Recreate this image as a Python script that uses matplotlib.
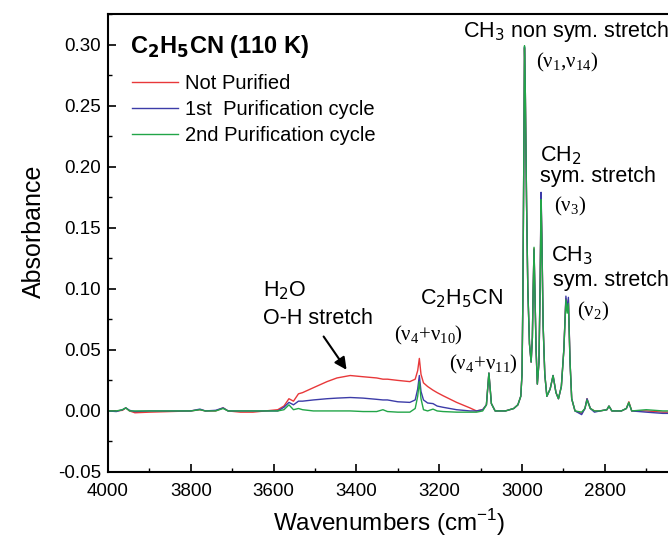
import matplotlib
matplotlib.use("Agg")
import matplotlib.pyplot as plt
from matplotlib.ticker import MultipleLocator, FormatStrFormatter

plt.rcParams['font.family'] = ['Liberation Sans', 'DejaVu Sans']
plt.rcParams['axes.unicode_minus'] = False
plt.rcParams['mathtext.fontset'] = 'custom'
plt.rcParams['mathtext.rm'] = 'Liberation Serif'
plt.rcParams['mathtext.it'] = 'Liberation Serif'
plt.rcParams['mathtext.bf'] = 'Liberation Serif:bold'

# ---- data ----
wavenumber = [4000, 3980, 3965, 3957, 3948, 3935, 3900, 3850, 3800, 3778, 3765, 3740,
              3722, 3710, 3680, 3650, 3620, 3590, 3575, 3563, 3552, 3540, 3530, 3504,
              3471, 3447, 3415, 3384, 3351, 3336, 3325, 3300, 3271, 3258, 3252, 3248,
              3244, 3238, 3228, 3215, 3205, 3191, 3158, 3126, 3110, 3095, 3086, 3080,
              3074, 3065, 3040, 3020, 3010, 3003, 3000, 2998, 2996, 2994, 2992, 2989,
              2986, 2982, 2978, 2975, 2973, 2971, 2969, 2966, 2963, 2959, 2956, 2954,
              2952, 2949, 2945, 2940, 2932, 2925, 2918, 2912, 2905, 2899, 2894, 2891,
              2888, 2884, 2880, 2872, 2856, 2848, 2843, 2835, 2825, 2812, 2795, 2790,
              2783, 2760, 2748, 2742, 2735, 2700, 2660, 2620]

not_purified = [0.000, 0.000, 0.0005, 0.0025, 0.000, -0.0015, -0.001, -0.0005, 0.000, 0.001, 0.000, 0.000,
                0.0025, 0.000, -0.001, -0.001, 0.000, 0.001, 0.004, 0.010, 0.008, 0.014, 0.015, 0.019,
                0.024, 0.027, 0.029, 0.028, 0.027, 0.026, 0.026, 0.025, 0.024, 0.026, 0.033, 0.043,
                0.030, 0.023, 0.020, 0.017, 0.015, 0.0125, 0.007, 0.0025, 0.000, 0.001, 0.005, 0.031,
                0.006, 0.000, 0.000, 0.002, 0.005, 0.012, 0.030, 0.090, 0.190, 0.297, 0.260, 0.170,
                0.100, 0.055, 0.040, 0.060, 0.100, 0.133, 0.100, 0.050, 0.022, 0.040, 0.110, 0.176,
                0.140, 0.070, 0.030, 0.012, 0.018, 0.029, 0.015, 0.010, 0.020, 0.050, 0.092, 0.082,
                0.091, 0.040, 0.010, 0.000, -0.002, 0.002, 0.010, 0.002, 0.000, 0.000, 0.001, 0.004,
                0.000, 0.000, 0.002, 0.0075, 0.000, 0.000, -0.001, -0.001]

first_cycle = [0.000, -0.0005, 0.001, 0.0025, 0.0005, -0.0005, 0.000, 0.000, 0.000, 0.0015, 0.000, 0.0005,
               0.0025, 0.000, 0.000, 0.000, 0.000, 0.000, 0.003, 0.007, 0.005, 0.008, 0.008, 0.009,
               0.010, 0.0105, 0.011, 0.0105, 0.0095, 0.009, 0.009, 0.0075, 0.007, 0.009, 0.018, 0.029,
               0.016, 0.009, 0.0065, 0.006, 0.004, 0.003, 0.001, 0.000, 0.000, 0.001, 0.005, 0.031,
               0.006, 0.000, 0.000, 0.002, 0.005, 0.012, 0.030, 0.090, 0.190, 0.298, 0.260, 0.170,
               0.100, 0.055, 0.040, 0.060, 0.100, 0.132, 0.100, 0.050, 0.022, 0.040, 0.112, 0.179,
               0.142, 0.070, 0.030, 0.012, 0.018, 0.029, 0.015, 0.010, 0.020, 0.050, 0.094, 0.083,
               0.093, 0.040, 0.010, 0.000, -0.003, 0.002, 0.010, 0.002, -0.001, 0.000, 0.001, 0.004,
               0.000, 0.000, 0.002, 0.0065, 0.000, -0.001, -0.002, -0.002]

second_cycle = [0.000, 0.000, 0.001, 0.0025, 0.000, 0.000, 0.000, 0.000, 0.000, 0.001, 0.000, 0.000,
                0.002, 0.000, 0.000, 0.000, 0.000, 0.000, 0.001, 0.005, 0.001, 0.002, 0.001, 0.000,
                0.000, 0.000, 0.000, -0.0005, -0.0005, 0.001, -0.0005, -0.001, -0.001, 0.002, 0.012, 0.024,
                0.010, 0.001, 0.000, 0.0015, 0.000, -0.0005, -0.001, -0.001, -0.001, 0.000, 0.005, 0.031,
                0.006, 0.000, 0.000, 0.002, 0.005, 0.012, 0.030, 0.090, 0.190, 0.299, 0.260, 0.170,
                0.100, 0.055, 0.040, 0.060, 0.100, 0.134, 0.100, 0.050, 0.022, 0.040, 0.108, 0.173,
                0.138, 0.070, 0.030, 0.012, 0.018, 0.029, 0.015, 0.010, 0.020, 0.050, 0.091, 0.080,
                0.088, 0.040, 0.010, 0.000, -0.001, 0.002, 0.009, 0.002, 0.000, 0.000, 0.001, 0.004,
                0.000, 0.000, 0.002, 0.007, 0.000, 0.001, 0.000, 0.000]

series_labels = ["Not Purified", "1st  Purification cycle", "2nd Purification cycle"]
series_colors = ["#e8383a", "#3c3ca8", "#22a548"]
x_ticks = [4000, 3800, 3600, 3400, 3200, 3000, 2800]
y_ticks = [-0.05, 0.00, 0.05, 0.10, 0.15, 0.20, 0.25, 0.30]

fig = plt.figure(figsize=(6.68, 5.39), dpi=100)
ax = fig.add_axes([108 / 668, 67 / 539, 0.8677, 458 / 539])

for vals, lab, col in zip([not_purified, first_cycle, second_cycle], series_labels, series_colors):
    ax.plot(wavenumber, vals, color=col, lw=1.0, label=lab)

ax.set_xlim(4000, 2600)
ax.set_ylim(-0.05, 0.325)
ax.set_xticks(x_ticks)
ax.set_yticks(y_ticks)
ax.xaxis.set_minor_locator(MultipleLocator(100))
ax.yaxis.set_minor_locator(MultipleLocator(0.025))
ax.yaxis.set_major_formatter(FormatStrFormatter('%.2f'))
ax.tick_params(axis='both', which='major', direction='in', length=6, width=1.2, labelsize=13.5)
ax.tick_params(axis='x', which='major', pad=8)
ax.tick_params(axis='y', which='major', pad=5)
ax.tick_params(axis='both', which='minor', direction='in', length=3, width=1.0)
for s in ax.spines.values():
    s.set_linewidth(1.5)

SANS_MATH = 'dejavusans'
ax.set_xlabel(r'Wavenumbers (cm$^{\mathregular{-1}}$)', fontsize=17.5, math_fontfamily=SANS_MATH)
ax.xaxis.set_label_coords((389 - 108) / 579.6, -0.077)
ax.set_ylabel('Absorbance', fontsize=18)
ax.yaxis.set_label_coords(-0.107, (472 - 231) / 458)

ax.text(0.038, 0.915, r'C$_\mathbf{2}$H$_\mathbf{5}$CN (110 K)', transform=ax.transAxes,
        fontsize=17, fontweight='bold', va='baseline', ha='left', math_fontfamily=SANS_MATH)

leg = ax.legend(loc='upper left', bbox_to_anchor=(0.041, 0.868), frameon=False,
                fontsize=14.5, handlelength=2.3, handletextpad=0.35, labelspacing=0.33,
                borderpad=0, borderaxespad=0)

fs = 15.5
ax.text(3142, 0.306, r'CH$_3$ non sym. stretch', fontsize=fs, va='baseline', ha='left', math_fontfamily=SANS_MATH)
ax.text(2966, 0.281, r'(ν$_1$,ν$_{14}$)', fontsize=15, va='baseline', ha='left', family='Liberation Serif')
ax.text(2956, 0.2047, r'CH$_2$', fontsize=fs, va='baseline', ha='left', math_fontfamily=SANS_MATH)
ax.text(2956, 0.1876, 'sym. stretch', fontsize=fs, va='baseline', ha='left')
ax.text(2922, 0.1635, r'(ν$_3$)', fontsize=15, va='baseline', ha='left', family='Liberation Serif')
ax.text(2930, 0.1225, r'CH$_3$', fontsize=fs, va='baseline', ha='left', math_fontfamily=SANS_MATH)
ax.text(2925, 0.102, 'sym. stretch', fontsize=fs, va='baseline', ha='left')
ax.text(2868, 0.0775, r'(ν$_2$)', fontsize=15, va='baseline', ha='left', family='Liberation Serif')
ax.text(3246, 0.0873, r'C$_2$H$_5$CN', fontsize=fs, va='baseline', ha='left', math_fontfamily=SANS_MATH)
ax.text(3310, 0.0573, r'(ν$_4$+ν$_{10}$)', fontsize=15, va='baseline', ha='left', family='Liberation Serif')
ax.text(3176, 0.0343, r'(ν$_4$+ν$_{11}$)', fontsize=15, va='baseline', ha='left', family='Liberation Serif')
ax.text(3626, 0.0935, r'H$_2$O', fontsize=fs, va='baseline', ha='left', math_fontfamily=SANS_MATH)
ax.text(3626, 0.071, 'O-H stretch', fontsize=fs, va='baseline', ha='left')
ax.annotate('', xy=(3420, 0.0318), xytext=(3483, 0.0628),
            arrowprops=dict(arrowstyle='-|>', color='black', lw=1.5, mutation_scale=18))

fig.savefig('out.png', dpi=100)
